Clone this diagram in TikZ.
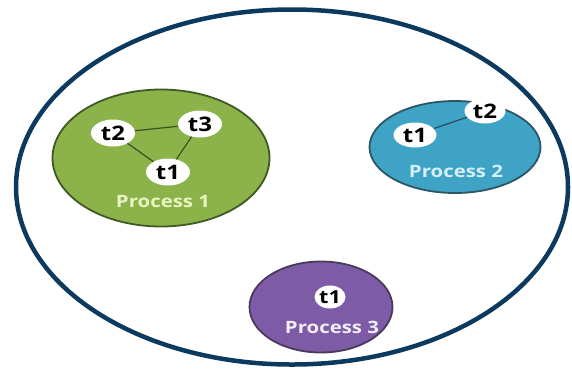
\documentclass[tikz,border=0pt]{standalone}
\usepackage{fontspec}
\setmainfont{Open Sans}
\usetikzlibrary{shapes.geometric}
\definecolor{navy}{HTML}{0B3A5E}
\definecolor{pgreen}{HTML}{8CB24A}
\definecolor{pgreenb}{HTML}{3F5A24}
\definecolor{pgreent}{HTML}{E8F5C0}
\definecolor{pblue}{HTML}{3FA3C5}
\definecolor{pblueb}{HTML}{2C5566}
\definecolor{pbluet}{HTML}{D4F0FA}
\definecolor{ppurple}{HTML}{7D5BA6}
\definecolor{ppurpleb}{HTML}{4A3A5A}
\definecolor{ppurplet}{HTML}{F3EEFA}
\newcommand{\widetext}[1]{\scalebox{1.2}[1]{#1}}
\tikzset{
  procbox/.style={ellipse, inner sep=0pt, line width=1.8pt},
  thread/.style={ellipse, fill=white, inner sep=0pt, minimum width=44pt, minimum height=27pt, font=\fontsize{20}{20}\selectfont\bfseries, text=black},
  smallthread/.style={thread, minimum width=31pt, minimum height=23pt, font=\fontsize{18}{18}\selectfont\bfseries},
  proclabel/.style={font=\fontsize{17}{17}\selectfont\bfseries, inner sep=0pt},
  link/.style={line width=1.2pt}
}
\begin{document}
\begin{tikzpicture}[x=1pt,y=-1pt]
\useasboundingbox (0,0) rectangle (572,368);
\fill[white] (0,0) rectangle (572,368);
% outer address space
\node[ellipse, draw=navy, line width=4.5pt, minimum width=552pt, minimum height=355pt, inner sep=0pt] (space) at (292,187) {};
% Process 1
\node[procbox, fill=pgreen, draw=pgreenb, minimum width=217pt, minimum height=137pt] (p1) at (161,158) {};
\node[thread] (p1t2) at (113,133) {\widetext{t2}};
\node[thread] (p1t3) at (200,124) {\widetext{t3}};
\node[thread] (p1t1) at (168,172) {\widetext{t1}};
\draw[link, draw=pgreenb!90!black] (p1t2) -- (p1t3);
\draw[link, draw=pgreenb!90!black] (p1t2) -- (p1t1);
\draw[link, draw=pgreenb!90!black] (p1t3) -- (p1t1);
\node[proclabel, text=pgreent] (p1lab) at (163,202) {\widetext{Process 1}};
% Process 2
\node[procbox, fill=pblue, draw=pblueb, minimum width=171pt, minimum height=92pt] (p2) at (455,147) {};
\node[thread, minimum width=43pt, minimum height=25pt] (p2t1) at (415,135) {\widetext{t1}};
\node[thread, minimum width=41pt, minimum height=25pt] (p2t2) at (485,111) {\widetext{t2}};
\draw[link, draw=pblueb!90!black] (p2t1) -- (p2t2);
\node[proclabel, text=pbluet] (p2lab) at (456,171) {\widetext{Process 2}};
% Process 3
\node[procbox, fill=ppurple, draw=ppurpleb, minimum width=143pt, minimum height=91pt] (p3) at (321,307) {};
\node[smallthread] (p3t1) at (330,297) {\widetext{t1}};
\node[proclabel, text=ppurplet] (p3lab) at (332,327) {\widetext{Process 3}};
\end{tikzpicture}
\end{document}
